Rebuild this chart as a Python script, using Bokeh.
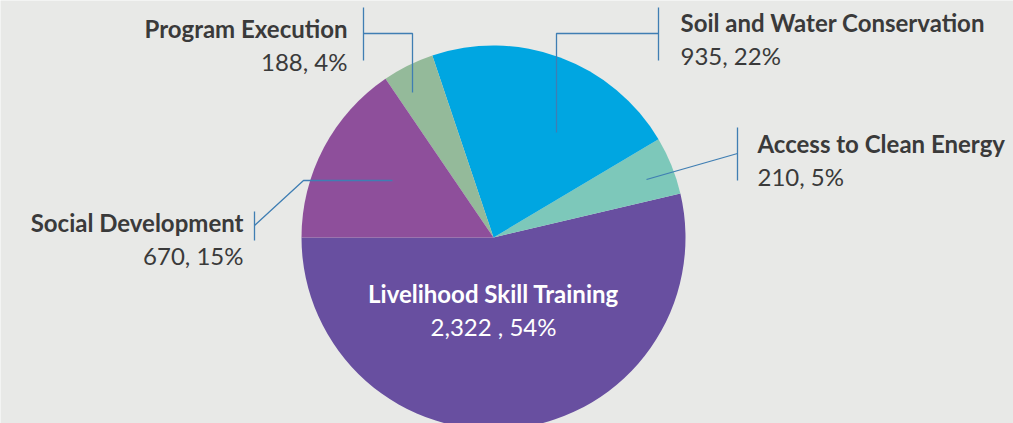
import math
from bokeh.plotting import figure
from bokeh.models import Range1d, ColumnDataSource
from bokeh.core.properties import value
from bokeh.embed import file_html
from bokeh.resources import INLINE

categories = ["Livelihood Skill Training", "Access to Clean Energy", "Soil and Water Conservation",
              "Program Execution", "Social Development"]
values = [2322, 210, 935, 188, 670]
value_labels = ["2,322 , 54%", "210, 5%", "935, 22%", "188, 4%", "670, 15%"]
colors = ["#684FA0", "#7DC8BA", "#00A6E1", "#94BA9A", "#8E4F9B"]

W, H = 1013, 423
cx, cy, R = 493, H - 237, 192
BG = "#E8E9E7"
LINE = "#3F7EB3"
TXT = "#3A3A3A"
FONT = "Lato"

total = sum(values)
starts, ends = [], []
a = math.pi
for v in values:
    starts.append(a)
    a += v / total * 2 * math.pi
    ends.append(a)

p = figure(width=W, height=H, output_backend="svg", toolbar_location=None,
           x_range=Range1d(0, W), y_range=Range1d(0, H), min_border=0)
p.axis.visible = False
p.grid.visible = False
p.outline_line_color = None
p.background_fill_color = BG
p.border_fill_color = BG

src = ColumnDataSource(dict(start=starts, end=ends, color=colors))
p.wedge(x=cx, y=cy, radius=R, start_angle="start", end_angle="end",
        fill_color="color", line_color=None, source=src)

def Y(py):
    return H - py

# leader lines (pixel layout positions)
leaders = [
    # Program Execution
    ([412, 412, 363], [92, 33, 33]), ([363, 363], [7, 60]),
    # Soil and Water
    ([556, 556, 658], [132, 33, 33]), ([658, 658], [7, 60]),
    # Access
    ([646, 737], [179, 153]), ([737, 737], [127, 180]),
    # Social
    ([392, 303, 254], [180, 180, 225]), ([254, 254], [211, 240]),
]
for xs, ys in leaders:
    p.line(xs, [Y(v) for v in ys], line_color=LINE, line_width=1.3)

# labels: (index, x, center y title, center y value, align, color)
lab = [
    (3, 347, 28, 61, "right", TXT),
    (2, 680, 22, 55, "left", TXT),
    (1, 757, 143, 176, "left", TXT),
    (4, 243, 222, 255, "right", TXT),
    (0, 493, 293, 326, "center", "#FFFFFF"),
]
for i, x, yc1, yc2, al, col in lab:
    p.text(x=[x], y=[Y(yc1)], text=[categories[i]], text_font=value(FONT),
           text_font_style="bold", text_font_size="24px", text_align=al,
           text_baseline="middle", text_color=col)
    p.text(x=[x], y=[Y(yc2)], text=[value_labels[i]], text_font=value(FONT),
           text_font_size="24px", text_align=al,
           text_baseline="middle", text_color=col)

open("out.html", "w").write(file_html(p, INLINE))
